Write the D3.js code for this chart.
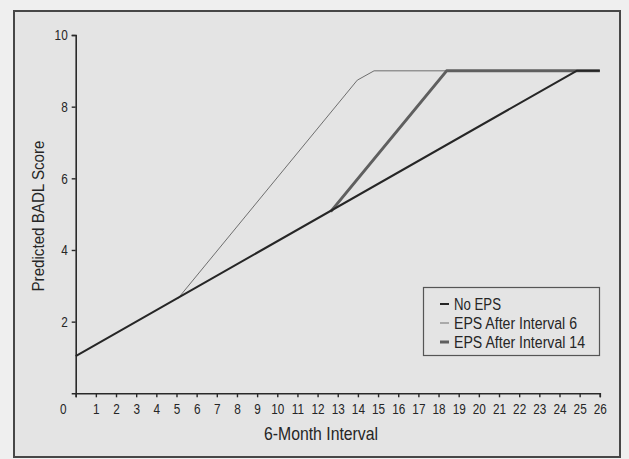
<!DOCTYPE html>
<html><head><meta charset="utf-8">
<script src="https://cdn.jsdelivr.net/npm/d3@7"></script>
<style>
body{margin:0;background:#efefef;}
svg{display:block;}
text{font-family:"Liberation Sans",Arial,sans-serif;fill:#262626;}
</style></head>
<body><svg id="c" width="629" height="459"></svg>
<script>
const xTicks = d3.range(0, 27);
const yTicks = [2, 4, 6, 8, 10];
const seriesNames = ["No EPS", "EPS After Interval 6", "EPS After Interval 14"];
const noEpsX = [0, 24.85, 26];
const noEpsY = [1.04, 9.0, 9.0];
const eps6X = [5.05, 13.97, 14.8, 26];
const eps6Y = [2.63, 8.74, 9.0, 9.0];
const eps14X = [12.65, 18.4, 26];
const eps14Y = [5.07, 9.0, 9.0];

const svg = d3.select("#c");
svg.append("rect").attr("x",14).attr("y",11).attr("width",606).attr("height",446)
  .attr("fill","#e4e4e4").attr("stroke","#474747").attr("stroke-width",2);

const x = d3.scaleLinear().domain([0,26]).range([75.7,599.8]);
const y = d3.scaleLinear().domain([0,10]).range([393.3,35]);

function condense(sel, factor){
  sel.each(function(){
    const w = this.getComputedTextLength();
    d3.select(this).attr("textLength", w*factor).attr("lengthAdjust","spacingAndGlyphs");
  });
}

// axes
const xAxis = svg.append("g").attr("transform","translate(0,393.3)")
  .call(d3.axisBottom(x).tickValues(xTicks).tickSize(4).tickPadding(6).tickFormat(d3.format("d")));
const yAxis = svg.append("g").attr("transform","translate(75.7,0)")
  .call(d3.axisLeft(y).tickValues(yTicks).tickSize(4).tickPadding(4).tickFormat(d3.format("d")));
[xAxis,yAxis].forEach(a=>{
  a.attr("font-size",15.5);
  a.select(".domain").attr("stroke","#2a2a2a").attr("stroke-width",1.6);
  a.selectAll(".tick line").attr("stroke","#2a2a2a").attr("stroke-width",1.4);
  a.selectAll("text").attr("font-size",15.5).attr("fill","#262626")
   .style("font-family",'"Liberation Sans",Arial,sans-serif');
  condense(a.selectAll("text"), 0.76);
});
// origin label shifted left as in the reference
xAxis.selectAll(".tick").filter(d=>d===0).select("text").attr("dx",-13);

svg.append("text").attr("x",321).attr("y",440).attr("text-anchor","middle")
  .attr("font-size",18.5).attr("textLength",114).attr("lengthAdjust","spacingAndGlyphs")
  .text("6-Month Interval");
svg.append("text").attr("transform","translate(44,216) rotate(-90)").attr("text-anchor","middle")
  .attr("font-size",17).attr("textLength",151).attr("lengthAdjust","spacingAndGlyphs")
  .text("Predicted BADL Score");

const line = d3.line().x(d=>x(d[0])).y(d=>y(d[1]));
const styles = [
  {name:seriesNames[1], xs:eps6X, ys:eps6Y, color:"#6e6e6e", w:1},
  {name:seriesNames[2], xs:eps14X, ys:eps14Y, color:"#5f5f5f", w:3},
  {name:seriesNames[0], xs:noEpsX, ys:noEpsY, color:"#262626", w:2}
];
styles.forEach(s=>{
  svg.append("path").datum(s.xs.map((v,i)=>[v,s.ys[i]]))
    .attr("d",line).attr("fill","none").attr("stroke",s.color)
    .attr("stroke-width",s.w).attr("stroke-linejoin","round");
});

// legend
const lg = svg.append("g");
lg.append("rect").attr("x",423.5).attr("y",287.5).attr("width",176).attr("height",68)
  .attr("fill","none").attr("stroke","#555").attr("stroke-width",1.2);
const legendItems = [styles[2], styles[0], styles[1]];
const legendWidths = [47, 123, 131];
legendItems.forEach((s,i)=>{
  const yy = 304 + i*19;
  lg.append("line").attr("x1",440).attr("x2",449).attr("y1",yy).attr("y2",yy)
    .attr("stroke",s.color).attr("stroke-width",s.w);
  lg.append("text").attr("x",454).attr("y",yy).attr("dy","0.36em")
    .attr("font-size",16).attr("textLength",legendWidths[i]).attr("lengthAdjust","spacingAndGlyphs")
    .text(s.name);
});
</script></body></html>
